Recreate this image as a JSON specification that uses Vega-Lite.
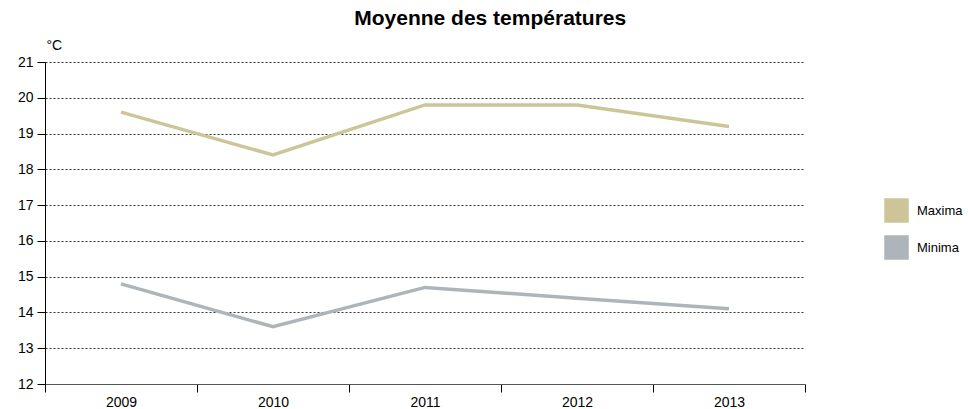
{
  "$schema": "https://vega.github.io/schema/vega-lite/v6.json",
  "width": 760,
  "height": 322,
  "autosize": {"type": "none"},
  "padding": {"left": 45, "top": 62, "right": 163, "bottom": 25},
  "background": "white",
  "config": {
    "font": "Liberation Sans",
    "view": {"stroke": null}
  },
  "title": {"text": "Moyenne des températures", "fontSize": 21, "font": "Liberation Sans", "fontWeight": "bold", "color": "#000", "anchor": "middle", "frame": "bounds", "offset": 9},
  "data": {"values": [
    {"year": "2009", "series": "Maxima", "temp": 19.6},
    {"year": "2010", "series": "Maxima", "temp": 18.4},
    {"year": "2011", "series": "Maxima", "temp": 19.8},
    {"year": "2012", "series": "Maxima", "temp": 19.8},
    {"year": "2013", "series": "Maxima", "temp": 19.2},
    {"year": "2009", "series": "Minima", "temp": 14.8},
    {"year": "2010", "series": "Minima", "temp": 13.6},
    {"year": "2011", "series": "Minima", "temp": 14.7},
    {"year": "2012", "series": "Minima", "temp": 14.4},
    {"year": "2013", "series": "Minima", "temp": 14.1}
  ]},
  "mark": {"type": "line", "strokeWidth": 3.5, "strokeCap": "butt"},
  "encoding": {
    "x": {"field": "year", "type": "ordinal", "scale": {"type": "band", "paddingInner": 0, "paddingOuter": 0},
      "axis": {"title": null, "labelAngle": 0, "grid": false, "tickBand": "extent", "domainColor": "#555", "tickColor": "#000", "tickSize": 8, "labelPadding": 3, "labelFontSize": 14, "labelColor": "#000", "labelFont": "Liberation Sans"}},
    "y": {"field": "temp", "type": "quantitative", "scale": {"domain": [12, 21], "nice": false, "zero": false},
      "axis": {"values": [12,13,14,15,16,17,18,19,20,21], "title": "°C", "titleAngle": 0, "titleAlign": "left", "titleBaseline": "middle", "titleX": 1, "titleY": -17, "titleFontSize": 14, "titleFontWeight": "normal", "titleColor": "#000", "titleFont": "Liberation Sans",
        "domainColor": "#000", "tickColor": "#000", "tickSize": 8, "labelPadding": 4, "labelFontSize": 14, "labelColor": "#000", "labelFont": "Liberation Sans",
        "grid": true, "gridColor": "#333", "gridDash": [2, 2], "gridWidth": 1}},
    "color": {"field": "series", "type": "nominal", "scale": {"domain": ["Maxima", "Minima"], "range": ["#cdc599", "#adb5bb"]},
      "legend": {"title": null, "orient": "none", "legendX": 839, "legendY": 136, "symbolType": "square", "symbolSize": 529, "labelFontSize": 13, "labelColor": "#000", "labelFont": "Liberation Sans", "rowPadding": 8, "labelOffset": 8,
        "encode": {"symbols": {"update": {"fill": {"scale": "color", "field": "value"}, "stroke": {"value": "transparent"}, "shape": {"value": "square"}}}}}}
  }
}
